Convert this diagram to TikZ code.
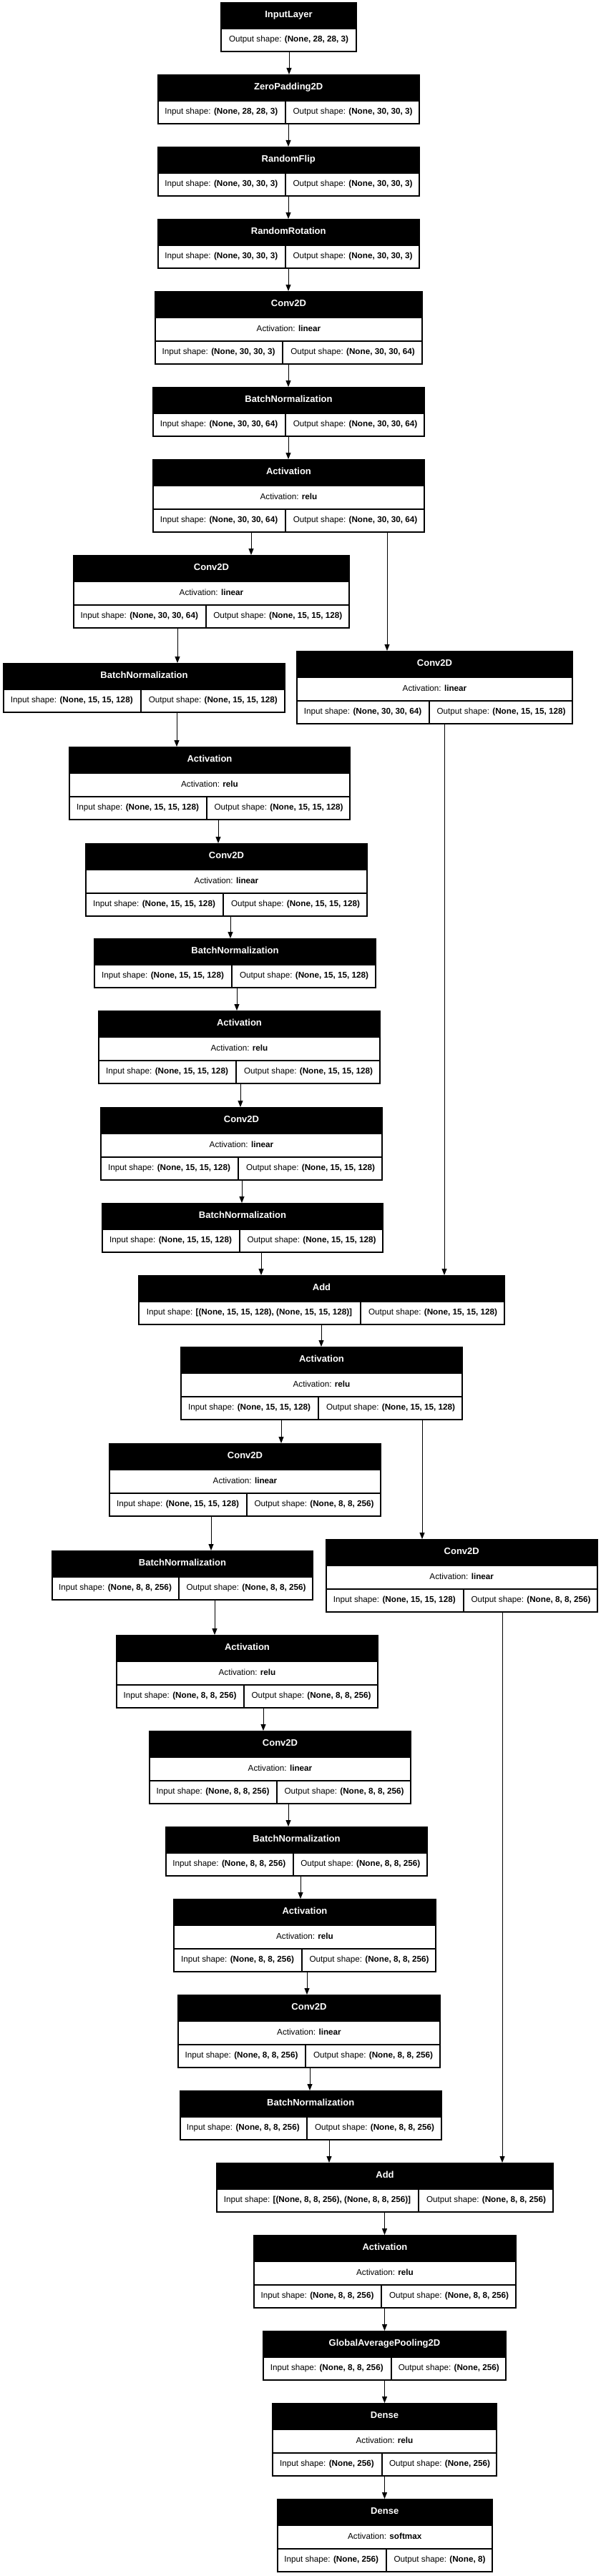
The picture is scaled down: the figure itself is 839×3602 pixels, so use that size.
\documentclass[tikz,border=0pt]{standalone}
\usepackage{fontspec}
\setmainfont{Liberation Sans}
\usetikzlibrary{arrows.meta}
\tikzset{
  hdr/.style={text=white, font=\fontsize{13}{15}\selectfont\bfseries, inner sep=0, text height=9.4pt, text depth=2.7pt},
  celltext/.style={text=black, font=\fontsize{11.7}{14}\selectfont, inner sep=0, text height=8.4pt, text depth=2.5pt},
  layerframe/.style={inner sep=0, outer sep=0, draw=none},
  arr/.style={line width=1pt, -{Triangle[length=9pt,width=7pt]}},
}
\newcommand\lay[9]{%
  \def\tmpact{#7}%
  \ifx\tmpact\empty\def\hgt{70}\else\def\hgt{103}\fi
  \fill[black] (#2,#4) rectangle (#3,#4+\hgt);
  \node[layerframe, minimum width={#3-#2}, minimum height=\hgt, anchor=north west] (#1) at (#2,#4) {};
  \node[hdr] at ({(#2+#3)/2},#4+18.5) {#6};
  \ifx\tmpact\empty
    \def\ry{#4+37}%
  \else
    \fill[white] (#2+2,#4+38) rectangle (#3-2,#4+69);
    \node[celltext] at ({(#2+#3)/2},#4+53.5) {Activation: \textbf{#7}};
    \def\ry{#4+70}%
  \fi
  \fill[white] (#2+2,\ry+1) rectangle (#5-1,\ry+31);
  \fill[white] (#5+1,\ry+1) rectangle (#3-2,\ry+31);
  \node[celltext] at ({(#2+#5)/2},\ry+16) {Input shape: \textbf{#8}};
  \node[celltext] at ({(#5+#3)/2},\ry+16) {Output shape: \textbf{#9}};
}
\begin{document}
\begin{tikzpicture}[x=1pt,y=-1pt]
\fill[white] (0,0) rectangle (839,3602);
\useasboundingbox (0,0) rectangle (839,3602);
% InputLayer
\fill[black] (308,3) rectangle (499,73);
\node[layerframe, minimum width=191, minimum height=70, anchor=north west] (L1) at (308,3) {};
\node[hdr] at (403.5,21.5) {InputLayer};
\fill[white] (310,41) rectangle (497,71);
\node[celltext] at (403.5,56) {Output shape: \textbf{(None, 28, 28, 3)}};
\lay{L2}{219.5}{587}{104}{399}{ZeroPadding2D}{}{(None, 28, 28, 3)}{(None, 30, 30, 3)}
\lay{L3}{219.5}{587}{205}{399}{RandomFlip}{}{(None, 30, 30, 3)}{(None, 30, 30, 3)}
\lay{L4}{219.5}{587}{306}{399}{RandomRotation}{}{(None, 30, 30, 3)}{(None, 30, 30, 3)}
\lay{L5}{216}{591}{407}{395}{Conv2D}{linear}{(None, 30, 30, 3)}{(None, 30, 30, 64)}
\lay{L6}{213}{594}{541}{399}{BatchNormalization}{}{(None, 30, 30, 64)}{(None, 30, 30, 64)}
\lay{L7}{213}{594}{642}{399}{Activation}{relu}{(None, 30, 30, 64)}{(None, 30, 30, 64)}
\lay{L8}{102}{489}{776}{287.5}{Conv2D}{linear}{(None, 30, 30, 64)}{(None, 15, 15, 128)}
\lay{L9}{414}{801}{910}{600}{Conv2D}{linear}{(None, 30, 30, 64)}{(None, 15, 15, 128)}
\lay{L10}{4}{399}{927}{196.5}{BatchNormalization}{}{(None, 15, 15, 128)}{(None, 15, 15, 128)}
\lay{L11}{96}{490}{1044}{289}{Activation}{relu}{(None, 15, 15, 128)}{(None, 15, 15, 128)}
\lay{L12}{119}{514}{1179}{312}{Conv2D}{linear}{(None, 15, 15, 128)}{(None, 15, 15, 128)}
\lay{L13}{131}{526}{1312}{324}{BatchNormalization}{}{(None, 15, 15, 128)}{(None, 15, 15, 128)}
\lay{L14}{137}{532}{1413}{330}{Activation}{relu}{(None, 15, 15, 128)}{(None, 15, 15, 128)}
\lay{L15}{140}{535}{1548}{333}{Conv2D}{linear}{(None, 15, 15, 128)}{(None, 15, 15, 128)}
\lay{L16}{142}{536}{1682}{335}{BatchNormalization}{}{(None, 15, 15, 128)}{(None, 15, 15, 128)}
\lay{L17}{193}{706}{1783}{504}{Add}{}{[(None, 15, 15, 128), (None, 15, 15, 128)]}{(None, 15, 15, 128)}
\lay{L18}{252}{647}{1883}{445}{Activation}{relu}{(None, 15, 15, 128)}{(None, 15, 15, 128)}
\lay{L19}{152}{533}{2018}{345}{Conv2D}{linear}{(None, 15, 15, 128)}{(None, 8, 8, 256)}
\lay{L20}{72}{438}{2168}{250}{BatchNormalization}{}{(None, 8, 8, 256)}{(None, 8, 8, 256)}
\lay{L21}{454.5}{836}{2152}{648}{Conv2D}{linear}{(None, 15, 15, 128)}{(None, 8, 8, 256)}
\lay{L22}{162}{529}{2286}{341}{Activation}{relu}{(None, 8, 8, 256)}{(None, 8, 8, 256)}
\lay{L23}{208}{575}{2420}{387}{Conv2D}{linear}{(None, 8, 8, 256)}{(None, 8, 8, 256)}
\lay{L24}{231}{598}{2554}{409.5}{BatchNormalization}{}{(None, 8, 8, 256)}{(None, 8, 8, 256)}
\lay{L25}{242}{610}{2655}{422}{Activation}{relu}{(None, 8, 8, 256)}{(None, 8, 8, 256)}
\lay{L26}{248}{616}{2789}{427}{Conv2D}{linear}{(None, 8, 8, 256)}{(None, 8, 8, 256)}
\lay{L27}{250.5}{618}{2923}{429}{BatchNormalization}{}{(None, 8, 8, 256)}{(None, 8, 8, 256)}
\lay{L28}{302}{774}{3024}{585}{Add}{}{[(None, 8, 8, 256), (None, 8, 8, 256)]}{(None, 8, 8, 256)}
\lay{L29}{354}{722}{3125}{533}{Activation}{relu}{(None, 8, 8, 256)}{(None, 8, 8, 256)}
\lay{L30}{367}{708}{3259}{546.5}{GlobalAveragePooling2D}{}{(None, 8, 8, 256)}{(None, 256)}
\lay{L31}{380}{695}{3360}{534}{Dense}{relu}{(None, 256)}{(None, 256)}
\lay{L32}{386.5}{689}{3494}{540}{Dense}{softmax}{(None, 256)}{(None, 8)}
% connectors
\draw[arr] (L1.south -| 404,0) -- (L2.north -| 404,0);
\draw[arr] (L2.south -| 403,0) -- (L3.north -| 403,0);
\draw[arr] (L3.south -| 403,0) -- (L4.north -| 403,0);
\draw[arr] (L4.south -| 403,0) -- (L5.north -| 403,0);
\draw[arr] (L5.south -| 403,0) -- (L6.north -| 403,0);
\draw[arr] (L6.south -| 403,0) -- (L7.north -| 403,0);
\draw[arr] (L7.south -| 351,0) -- (L8.north -| 351,0);
\draw[arr] (L7.south -| 541,0) -- (L9.north -| 541,0);
\draw[arr] (L8.south -| 248,0) -- (L10.north -| 248,0);
\draw[arr] (L10.south -| 247,0) -- (L11.north -| 247,0);
\draw[arr] (L11.south -| 305,0) -- (L12.north -| 305,0);
\draw[arr] (L12.south -| 322,0) -- (L13.north -| 322,0);
\draw[arr] (L13.south -| 331,0) -- (L14.north -| 331,0);
\draw[arr] (L14.south -| 336,0) -- (L15.north -| 336,0);
\draw[arr] (L15.south -| 338,0) -- (L16.north -| 338,0);
\draw[arr] (L16.south -| 365,0) -- (L17.north -| 365,0);
\draw[arr] (L9.south -| 621,0) -- (L17.north -| 621,0);
\draw[arr] (L17.south -| 449,0) -- (L18.north -| 449,0);
\draw[arr] (L18.south -| 393,0) -- (L19.north -| 393,0);
\draw[arr] (L18.south -| 590,0) -- (L21.north -| 590,0);
\draw[arr] (L19.south -| 295,0) -- (L20.north -| 295,0);
\draw[arr] (L20.south -| 300,0) -- (L22.north -| 300,0);
\draw[arr] (L22.south -| 368,0) -- (L23.north -| 368,0);
\draw[arr] (L23.south -| 403,0) -- (L24.north -| 403,0);
\draw[arr] (L24.south -| 420,0) -- (L25.north -| 420,0);
\draw[arr] (L25.south -| 429,0) -- (L26.north -| 429,0);
\draw[arr] (L26.south -| 433,0) -- (L27.north -| 433,0);
\draw[arr] (L27.south -| 460,0) -- (L28.north -| 460,0);
\draw[arr] (L21.south -| 702,0) -- (L28.north -| 702,0);
\draw[arr] (L28.south -| 537.5,0) -- (L29.north -| 537.5,0);
\draw[arr] (L29.south -| 537.5,0) -- (L30.north -| 537.5,0);
\draw[arr] (L30.south -| 537.5,0) -- (L31.north -| 537.5,0);
\draw[arr] (L31.south -| 537.5,0) -- (L32.north -| 537.5,0);
\end{tikzpicture}
\end{document}
